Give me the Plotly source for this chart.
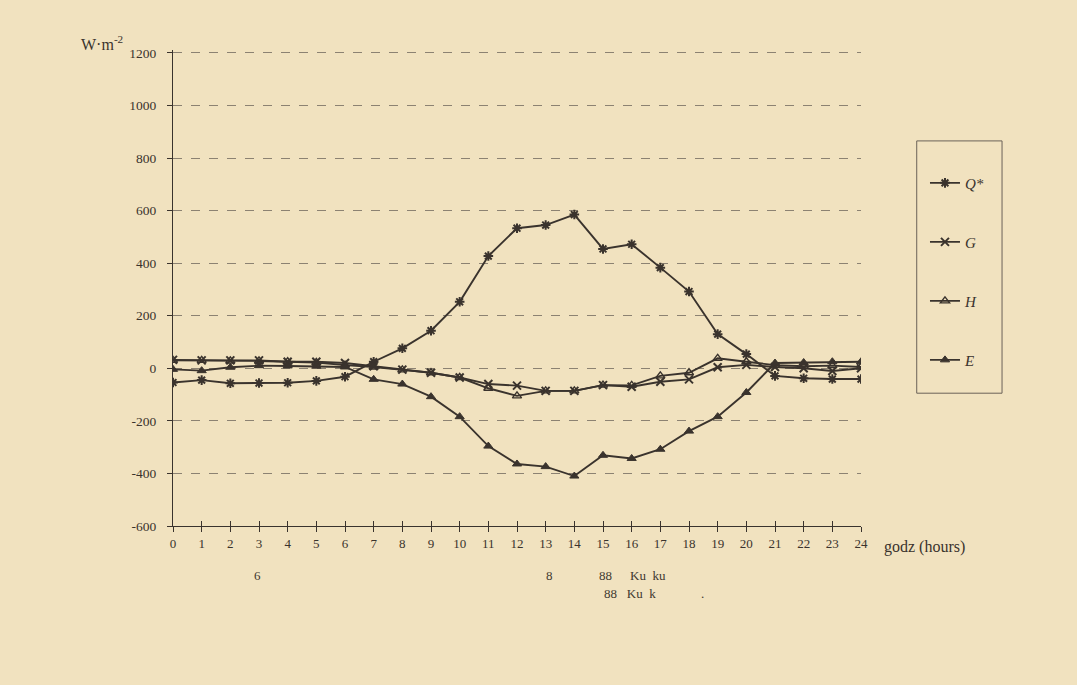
import plotly.graph_objects as go

hours = list(range(25))
x_tick_labels = [str(h) for h in hours]
y_tick_vals = [-600, -400, -200, 0, 200, 400, 600, 800, 1000, 1200]
y_tick_labels = [str(v) for v in y_tick_vals]

q_star = [-54, -45, -57, -56, -55, -48, -32, 25, 76, 143, 253, 427, 533, 545, 585,
          454, 472, 383, 292, 130, 54, -29, -38, -41, -41]
g_flux = [32, 30, 30, 30, 25, 25, 20, 8, -5, -17, -35, -60, -66, -86, -86,
          -64, -70, -51, -42, 4, 13, 5, 0, -10, 0]
h_flux = [30, 30, 28, 28, 25, 22, 12, 5, -6, -17, -35, -76, -105, -86, -86,
          -64, -65, -29, -17, 38, 25, 12, 8, 10, 5]
e_flux = [-4, -9, 4, 10, 9, 8, 5, -42, -60, -108, -184, -296, -364, -374, -410,
          -331, -343, -308, -239, -184, -92, 20, 22, 25, 25]

series_names = ["<i>Q*</i>", "<i>G</i>", "<i>H</i>", "<i>E</i>"]
series_values = [q_star, g_flux, h_flux, e_flux]
symbols = ["asterisk", "x-thin", "triangle-up-open", "triangle-up"]

INK = "#3a332d"
BG = "#f1e2bf"
SERIF = "Liberation Serif"

fig = go.Figure()
for name, vals, sym in zip(series_names, series_values, symbols):
    if sym == "triangle-up-open":
        mk = dict(symbol=sym, size=8, color=INK, line=dict(color=INK, width=1.4))
    elif sym == "triangle-up":
        mk = dict(symbol=sym, size=8, color=INK, line=dict(color=INK, width=1))
    else:
        mk = dict(symbol=sym, size=8, color=INK, line=dict(color=INK, width=2))
    fig.add_trace(go.Scatter(
        x=hours, y=vals, name=name, mode="lines+markers",
        legendgroup=name,
        line=dict(color=INK, width=1.9),
        marker=mk,
    ))

# overlay axis for ticks crossing the x axis upward
fig.add_trace(go.Scatter(x=[0, 24], y=[None, None], xaxis="x2", showlegend=False,
                         hoverinfo="skip"))

fig.update_layout(
    width=1077, height=685,
    paper_bgcolor=BG, plot_bgcolor=BG,
    margin=dict(l=173, r=216, t=50, b=159),
    font=dict(family=SERIF, color=INK, size=12),
    xaxis=dict(range=[0, 24], tickvals=hours, ticktext=x_tick_labels,
               showgrid=False, zeroline=False, showline=True, linecolor=INK,
               linewidth=1, ticks="outside", ticklen=5, tickcolor=INK,
               tickfont=dict(family=SERIF, size=13, color=INK)),
    xaxis2=dict(range=[0, 24], tickvals=hours, overlaying="x", anchor="y",
                side="bottom", showticklabels=False, showgrid=False,
                zeroline=False, showline=False, ticks="inside", ticklen=5,
                tickcolor=INK),
    yaxis=dict(range=[-600, 1211], tickvals=y_tick_vals, ticktext=y_tick_labels,
               showgrid=True, gridcolor="#8c8272", griddash="dash", gridwidth=1,
               zeroline=False, showline=True, linecolor=INK, linewidth=1,
               ticks="outside", ticklen=5, tickcolor=INK, ticklabelstandoff=8,
               tickfont=dict(family=SERIF, size=13.5, color=INK)),
    legend=dict(x=1.093, y=0.755, xanchor="left", yanchor="top",
                bgcolor="rgba(0,0,0,0)", borderwidth=0,
                font=dict(family=SERIF, size=15, color=INK),
                tracegroupgap=36.5, itemwidth=30),
    showlegend=True,
)

# legend box
fig.add_shape(type="rect", xref="paper", yref="paper",
              x0=1.081, x1=1.205, y0=0.279, y1=0.809,
              line=dict(color="#6b6258", width=1))

fig.add_annotation(text="W·m<sup>-2</sup>", xref="paper", yref="paper",
                   x=-0.136, y=0.99, xanchor="left", yanchor="bottom",
                   showarrow=False, font=dict(family=SERIF, size=16, color=INK))
fig.add_annotation(text="godz (hours)", xref="paper", yref="paper",
                   x=1.03, y=-0.045, xanchor="left", yanchor="middle",
                   showarrow=False, font=dict(family=SERIF, size=16, color=INK))

# faint scanned footer text
footer = [("6", 252, 585), ("8", 549, 585), ("88", 605, 585), ("Ku  ku", 668, 585),
          ("88   Ku  k", 630, 603), (".", 706, 603)]
for txt, px, py in footer:
    fig.add_annotation(text=txt, xref="paper", yref="paper",
                       x=(px - 173) / 688, y=(526 - py) / 476,
                       showarrow=False,
                       font=dict(family=SERIF, size=13, color="#3f3830"))

fig.write_html(
    "out.html",
    config={"displayModeBar": False},
    post_script="document.body.style.margin='0';"
                "document.body.style.background='#f1e2bf';",
)
